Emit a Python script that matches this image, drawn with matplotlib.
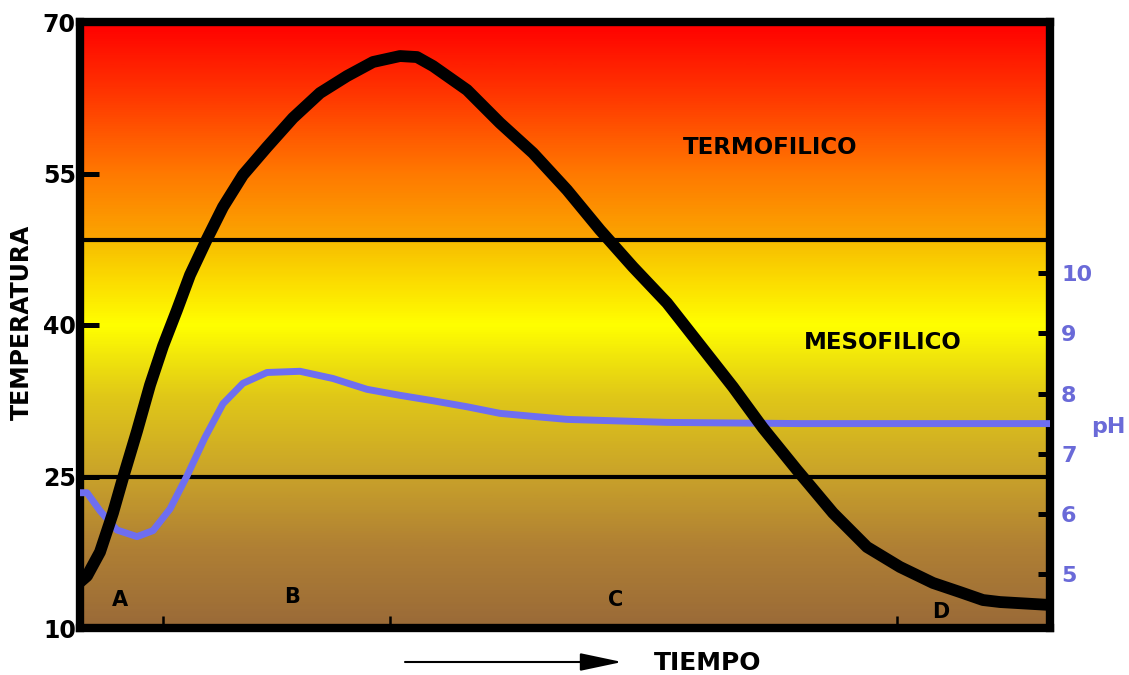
import numpy as np
import matplotlib
matplotlib.use('Agg')
import matplotlib.pyplot as plt
from matplotlib.colors import LinearSegmentedColormap

# curva de temperatura (tiempo 0-100, grados)
t_temp = [0, 0.72, 2.06, 3.40, 4.43, 5.88, 7.22, 8.56, 10.0, 11.34, 13.09, 14.74, 16.80,
          19.28, 21.96, 24.74, 27.53, 30.21, 32.99, 34.74, 36.39, 39.90, 43.30, 46.70,
          50.21, 53.61, 57.01, 60.52, 63.92, 67.32, 70.41, 73.92, 77.63, 81.13, 84.54,
          87.94, 90.72, 93.09, 94.85, 100]
temp = [14.55, 15.15, 17.52, 21.39, 24.85, 29.50, 34.06, 37.92, 41.49, 44.95, 48.51, 51.68,
        54.85, 57.62, 60.50, 62.97, 64.65, 66.04, 66.63, 66.53, 65.64, 63.27, 60.00, 57.03,
        53.37, 49.41, 45.74, 42.18, 38.02, 33.86, 29.80, 25.64, 21.39, 18.02, 16.04,
        14.46, 13.56, 12.77, 12.57, 12.28]

# curva de pH
t_ph = [0, 0.72, 2.06, 3.81, 5.88, 7.53, 9.28, 11.03, 12.89, 14.74, 16.80, 19.28, 22.68,
        26.08, 29.59, 32.99, 36.39, 39.90, 43.30, 46.70, 50.21, 54.33, 60.52, 74.23, 100]
ph = [6.35, 6.35, 6.05, 5.73, 5.62, 5.72, 6.08, 6.63, 7.27, 7.83, 8.17, 8.35, 8.37,
      8.25, 8.07, 7.97, 7.88, 7.78, 7.67, 7.62, 7.57, 7.55, 7.52, 7.50, 7.50]

temp_ticks = [10, 25, 40, 55, 70]
ph_ticks = [5, 6, 7, 8, 9, 10]
limites = [25, 48.4]   # mesofilico / termofilico
fases = ['A', 'B', 'C', 'D']

fig = plt.figure(figsize=(11.29, 6.75), dpi=100)
ax = fig.add_axes([80/1129, 47/675, 970/1129, 606/675])
ax.set_xlim(0, 100)
ax.set_ylim(10, 70)

# fondo degradado
stops = [(0.0, '#9a6a38'), (8/60, '#b08034'), (15/60, '#c9a22a'), (23/60, '#e0c818'),
         (30/60, '#ffff00'), (38.3/60, '#f8bd00'), (38.5/60, '#fba600'),
         (45/60, '#ff7a00'), (52/60, '#ff3e00'), (1.0, '#ff0000')]
cmap = LinearSegmentedColormap.from_list('fondo', stops)
grad = np.linspace(0, 1, 600).reshape(-1, 1)
ax.imshow(grad, cmap=cmap, extent=[0, 100, 10, 70], aspect='auto', origin='lower', zorder=0)

for y in limites:
    ax.axhline(y, color='black', lw=3, zorder=1)

for s in ax.spines.values():
    s.set_linewidth(6)
ax.set_yticks(temp_ticks)
ax.set_yticklabels([str(v) for v in temp_ticks], fontsize=17, fontweight='bold')
ax.tick_params(axis='y', direction='in', length=14, width=3.6, pad=3, right=False)
ax.set_xticks([8.6, 32.0, 84.2])
ax.set_xticklabels([])
ax.tick_params(axis='x', direction='in', length=9, width=1.8)

ax.text(71.1, 57.6, 'TERMOFILICO', fontsize=16.5, fontweight='bold', ha='center', va='center', zorder=2)
ax.text(82.8, 38.3, 'MESOFILICO', fontsize=16.5, fontweight='bold', ha='center', va='center', zorder=2)
for lab, xx, yy in zip(fases, [4.1, 21.9, 55.2, 88.7], [12.8, 13.1, 12.8, 11.6]):
    ax.text(xx, yy, lab, fontsize=15, fontweight='bold', ha='center', va='center', zorder=2)

# eje de pH
ax2 = ax.twinx()
ax2.plot(t_ph, ph, color='#6e6ef0', lw=5, solid_capstyle='butt', solid_joinstyle='round')
ax2.plot(t_temp, temp, color='black', lw=8.5, transform=ax.transData,
         solid_capstyle='butt', solid_joinstyle='round')
ax2.set_xlim(0, 100)
ax2.set_ylim(4.1, 14.18)
ax2.set_yticks(ph_ticks)
ax2.set_yticklabels([str(v) for v in ph_ticks], fontsize=16, fontweight='bold', color='#6a6ad8')
ax2.tick_params(axis='y', direction='in', length=9, width=3.6, pad=8)
for s in ax2.spines.values():
    s.set_visible(False)

fig.text(1108/1129, 1 - 427/675, 'pH', fontsize=16, fontweight='bold', color='#6a6ad8',
         ha='center', va='center')
fig.text(22/1129, 1 - 322/675, 'TEMPERATURA', fontsize=17, fontweight='bold',
         rotation=90, ha='center', va='center')

ax.annotate('', xy=(622/1129, 13/675), xytext=(405/1129, 13/675),
            xycoords='figure fraction', textcoords='figure fraction',
            arrowprops=dict(arrowstyle='-|>,head_length=2.6,head_width=0.55',
                            color='black', lw=1.5, shrinkA=0, shrinkB=0))
fig.text(708/1129, 1 - 663/675, 'TIEMPO', fontsize=18, fontweight='bold', ha='center', va='center')

fig.savefig('out.png', dpi=100)
